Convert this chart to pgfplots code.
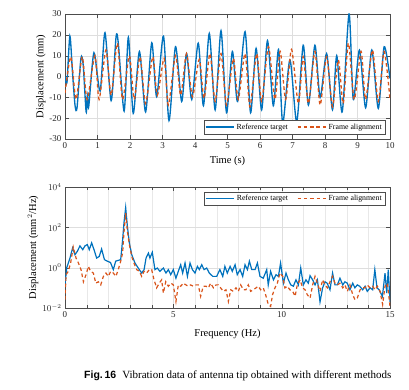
\documentclass[border=0pt]{standalone}
\usepackage{pgfplots}
\pgfplotsset{compat=1.18}
\usepackage{fontspec}
\setmainfont{Liberation Serif}
\newfontfamily\capsans{Liberation Sans}
\definecolor{mblue}{rgb}{0,0.447,0.741}
\definecolor{morange}{rgb}{0.85,0.325,0.098}
\definecolor{gridc}{gray}{0.87}
\pgfplotsset{
  mstyle/.style={
    scale only axis, width=325pt,
    /pgf/number format/assume math mode=true,
    tick label style={font=\fontsize{9}{10}\selectfont, text=black!85},
    label style={font=\fontsize{10.5}{12}\selectfont},
    axis line style={gray!60!black, line width=0.6pt},
    tick align=inside, tick style={gray!60!black},
    grid style={gridc, line width=0.3pt},
    legend style={font=\fontsize{7.8}{9}\selectfont, draw=gray!60!black, inner sep=1.2pt, row sep=-1pt,
      /tikz/every even column/.append style={column sep=7pt}},
    legend image code/.code={\draw[##1] (0pt,0pt) -- (1cm,0pt);},
    legend columns=2,
    legend cell align=left,
  }
}
\begin{document}
\begin{tikzpicture}
\useasboundingbox (0pt,-390pt) rectangle (409pt,0pt);
\begin{axis}[mstyle, at={(65pt,-139pt)}, anchor=south west, height=125pt,
  xmin=0, xmax=10, ymin=-30, ymax=30,
  xtick={0,1,...,10}, ytick={-30,-20,...,30},
  grid=major,
  xlabel={Time (s)}, ylabel={Displacement (mm)},
  xlabel style={yshift=-1pt}, ylabel style={yshift=-3pt},
  legend style={at={(0.985,0.04)}, anchor=south east},
]
\addplot[mblue, line width=1.35pt, smooth, tension=0.45] coordinates {
(0,0) (0.06,-3) (0.15,19.4) (0.23,2) (0.31,-14) (0.37,-15) (0.49,8.7) (0.56,5.5)
(0.65,-17) (0.69,-9) (0.73,-14.5) (0.89,11.4) (1.08,-7) (1.23,21) (1.42,-11.6)
(1.57,18.8) (1.64,16) (1.82,-16.6) (1.95,18.8) (2.10,-17.7) (2.29,12) (2.48,-17)
(2.67,16.2) (2.82,-9.7) (3.03,19.4) (3.2,-21.2) (3.40,14.3) (3.59,-12) (3.74,11)
(3.90,-11) (4.10,16) (4.26,-14) (4.44,20.7) (4.62,-16) (4.80,22) (4.97,-17.4)
(5.15,12) (5.31,-12) (5.54,21.5) (5.71,-17.4) (5.88,13.5) (6.05,-16) (6.23,17.2)
(6.41,-14) (6.57,13) (6.70,-22.5) (6.92,8) (7.13,-21.7) (7.33,15) (7.49,-13.7)
(7.69,15) (7.85,-10) (8.05,11) (8.23,-16) (8.36,10) (8.53,-17) (8.74,30)
(8.87,-11) (9.06,12.7) (9.25,-15) (9.44,12.7) (9.64,-15.3) (9.82,14.3) (10,-1)
};
\addlegendentry{Reference target}
\addplot[morange, line width=1.3pt, dash pattern=on 3.5pt off 2.8pt, smooth, tension=0.45] coordinates {
(0,-8) (0.18,9.5) (0.34,-11) (0.53,9.5) (0.68,-11) (0.92,10) (1.05,-11) (1.26,12.7)
(1.42,-9) (1.61,16) (1.77,-11) (1.98,10) (2.13,-11) (2.31,9.5) (2.48,-13) (2.70,9.5)
(2.84,-9) (3.05,8.7) (3.18,-13.7) (3.40,10) (3.56,-9) (3.74,11) (3.92,-9.7) (4.13,8.2)
(4.28,-10.5) (4.46,11) (4.62,-12) (4.80,11) (4.97,-13.7) (5.18,8.7) (5.33,-11)
(5.54,11) (5.69,-14.5) (5.90,11) (6.05,-12) (6.26,14.3) (6.46,-11) (6.62,12)
(6.79,-11) (6.97,13) (7.18,-13) (7.33,9.5) (7.49,-13) (7.69,12) (7.85,-13.7)
(8.05,9.5) (8.23,-14.5) (8.41,8) (8.56,-13) (8.72,16) (8.90,-11) (9.11,12)
(9.25,-11) (9.46,12.7) (9.64,-12) (9.82,12) (10,-11)
};
\addlegendentry{Frame alignment}
\end{axis}

\begin{axis}[mstyle, at={(65pt,-308pt)}, anchor=south west, height=121pt,
  xmin=0, xmax=15, ymin=1e-2, ymax=1e4, ymode=log,
  xtick={0,5,10,15}, ytick={1e-2,1e0,1e2,1e4},
  minor x tick num=4,
  grid=both, minor grid style={gridc!70, line width=0.2pt},
  xlabel={Frequency (Hz)}, ylabel={Displacement (mm$^2$/Hz)},
  xlabel style={yshift=-5pt}, ylabel style={yshift=-3pt},
  legend style={at={(0.985,0.96)}, anchor=north east},
]
\addplot[mblue, line width=1.2pt] coordinates {
(0,0.14) (0.08,1) (0.23,3) (0.35,9.4) (0.46,4.4) (0.57,6.5) (0.69,12) (0.82,7.8)
(0.92,12) (1.03,14) (1.12,7.8) (1.23,17) (1.34,7.8) (1.46,3) (1.58,3.6) (1.69,8.4)
(1.82,2.5) (1.95,2.1) (2.1,1.8) (2.23,0.8) (2.34,2.1) (2.46,2.3) (2.57,2.5) (2.66,24)
(2.72,160) (2.8,950) (2.88,112) (2.97,17) (3.08,4.4) (3.23,1.7) (3.38,0.96) (3.54,0.54)
(3.65,0.8) (3.74,3) (3.85,5.3) (3.92,3) (4.03,5.8) (4.15,0.8) (4.26,0.96) (4.38,0.66)
(4.54,0.96) (4.66,0.54) (4.77,0.8) (4.88,0.45) (5.0,0.8) (5.12,0.3) (5.23,0.66)
(5.34,1.4) (5.43,0.54) (5.54,1.7) (5.65,0.37) (5.77,1.7) (5.88,0.8) (6.0,0.54)
(6.11,1.16) (6.2,0.8) (6.31,1.4) (6.42,0.8) (6.54,0.96) (6.66,0.54) (6.82,0.37)
(7.0,0.37) (7.15,0.8) (7.28,0.37) (7.38,1.16) (7.49,0.54) (7.62,1.16) (7.72,0.66)
(7.85,1.4) (7.95,0.45) (8.08,0.8) (8.2,0.37) (8.31,1.4) (8.42,0.8) (8.51,2.1)
(8.62,0.8) (8.77,0.8) (8.88,1.7) (9.0,0.37) (9.15,0.3) (9.31,0.8) (9.38,0.14)
(9.49,0.66) (9.62,0.25) (9.74,0.45) (9.85,0.37) (9.95,1.7) (10.08,0.17) (10.2,0.54)
(10.31,0.25) (10.42,0.14) (10.54,0.12) (10.66,0.25) (10.77,0.14) (10.88,0.96)
(11.0,0.14) (11.12,0.25) (11.23,0.17) (11.31,0.4) (11.43,0.25) (11.54,0.14)
(11.65,0.25) (11.77,0.02) (11.89,0.1) (12.0,0.2) (12.1,0.17) (12.23,0.08) (12.35,0.54)
(12.46,0.14) (12.57,0.14) (12.69,0.3) (12.82,0.14) (12.92,0.2) (13.03,0.17)
(13.15,0.08) (13.28,0.17) (13.38,0.1) (13.49,0.14) (13.6,0.12) (13.74,0.08)
(13.85,0.12) (13.95,0.067) (14.08,0.1) (14.2,0.08) (14.3,0.8) (14.4,0.1) (14.5,0.08)
(14.65,0.038) (14.77,0.54) (14.85,0.055) (14.92,0.8) (15,0.02)
};
\addlegendentry{Reference target}
\addplot[morange, line width=1.2pt, dash pattern=on 3.5pt off 2.8pt] coordinates {
(0,0.026) (0.05,0.45) (0.15,0.66) (0.26,1.7) (0.38,10.6) (0.51,3) (0.62,1.7) (0.74,0.8)
(0.85,0.2) (0.97,0.45) (1.08,1.16) (1.18,0.66) (1.31,0.54) (1.42,0.17) (1.54,0.2)
(1.65,0.14) (1.77,0.37) (1.89,0.54) (2.0,0.37) (2.11,0.66) (2.23,0.54) (2.35,0.37)
(2.46,0.8) (2.57,2.1) (2.66,5.3) (2.72,52) (2.8,500) (2.88,63) (2.97,14) (3.08,3.6)
(3.18,1.7) (3.31,0.8) (3.43,0.66) (3.54,0.37) (3.65,0.66) (3.77,0.54) (3.89,0.8)
(4.0,0.8) (4.11,0.25) (4.23,0.1) (4.35,0.17) (4.46,0.25) (4.54,0.055) (4.65,0.2)
(4.77,0.12) (4.89,0.17) (5.0,0.14) (5.12,0.021) (5.23,0.14) (5.34,0.12) (5.46,0.17)
(5.58,0.14) (5.69,0.12) (5.8,0.14) (5.92,0.12) (6.05,0.14) (6.15,0.14) (6.26,0.038)
(6.38,0.12) (6.51,0.12) (6.62,0.1) (6.72,0.17) (6.85,0.1) (6.97,0.14) (7.08,0.14)
(7.18,0.1) (7.31,0.067) (7.43,0.08) (7.54,0.021) (7.65,0.08) (7.77,0.067) (7.89,0.1)
(8.0,0.067) (8.11,0.14) (8.23,0.08) (8.35,0.08) (8.46,0.14) (8.57,0.067) (8.69,0.08)
(8.82,0.1) (8.92,0.12) (9.03,0.08) (9.15,0.1) (9.28,0.038) (9.38,0.015) (9.49,0.012)
(9.58,0.046) (9.69,0.1) (9.8,0.17) (9.92,0.54) (10.05,0.37) (10.15,0.1) (10.26,0.12)
(10.38,0.08) (10.51,0.067) (10.62,0.038) (10.72,0.14) (10.85,0.25) (10.97,0.1)
(11.08,0.08) (11.18,0.046) (11.31,0.031) (11.43,0.14) (11.54,0.37) (11.65,0.17)
(11.77,0.067) (11.89,0.25) (12.0,0.14) (12.11,0.1) (12.23,0.2) (12.35,0.37)
(12.46,0.17) (12.57,0.14) (12.69,0.17) (12.82,0.1) (12.92,0.14) (13.03,0.067)
(13.15,0.14) (13.28,0.046) (13.38,0.026) (13.49,0.031) (13.62,0.08) (13.74,0.1)
(13.85,0.1) (13.95,0.14) (14.08,0.1) (14.2,0.12) (14.31,0.08) (14.42,0.12) (14.54,0.067)
(14.66,0.015) (14.77,0.12) (14.88,0.17) (15,0.012)
};
\addlegendentry{Frame alignment}
\end{axis}
\node[anchor=west, inner sep=0pt] at (84pt,-376pt) {{\capsans\bfseries\fontsize{10.5}{12}\selectfont Fig.\,16}\hspace{0.6em}{\fontsize{11}{12}\selectfont Vibration data of antenna tip obtained with different methods}};
\end{tikzpicture}
\end{document}
